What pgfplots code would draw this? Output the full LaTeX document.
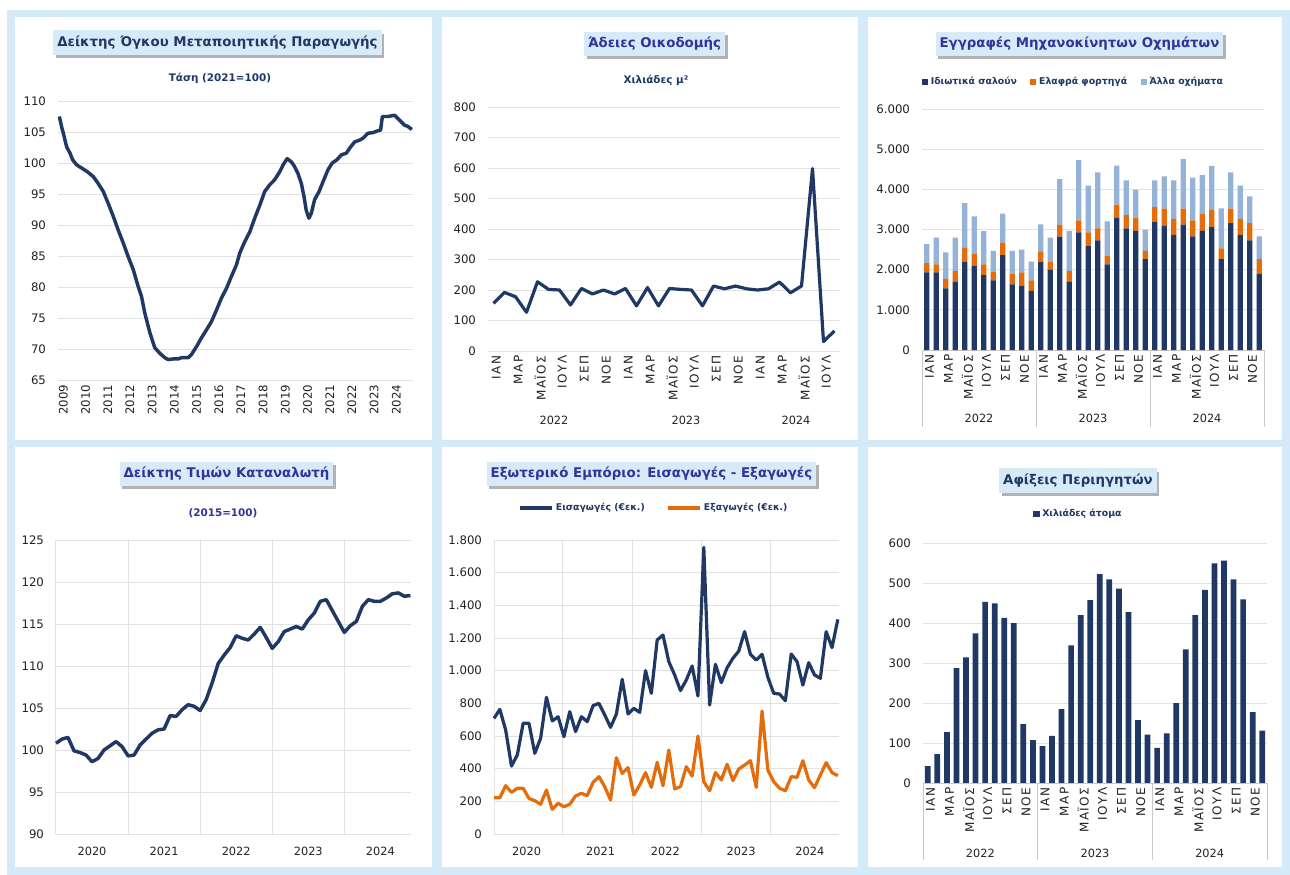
\documentclass[border=0pt]{standalone}
\usepackage{fontspec}
\setmainfont{DejaVu Sans}
\newfontfamily\spaced[LetterSpace=12]{DejaVu Sans}
\usepackage{pgfplots}
\pgfplotsset{compat=1.18}
\usetikzlibrary{shadows}
\definecolor{navy}{RGB}{31,56,100}
\definecolor{purp}{RGB}{51,51,153}
\definecolor{orng}{RGB}{228,108,10}
\definecolor{lblue}{RGB}{149,179,215}
\definecolor{titlebg}{RGB}{214,234,248}
\definecolor{framec}{RGB}{212,234,248}
\definecolor{gridc}{RGB}{226,226,226}
\definecolor{sepc}{RGB}{200,200,200}
\definecolor{tickc}{RGB}{35,35,35}
\pgfplotsset{
  panel/.style={scale only axis, anchor=south west, clip=false,
    axis line style={draw=none}, major tick length=0pt, tick style={draw=none},
    ymajorgrids, grid style={gridc, line width=0.75pt},
    tick label style={text=tickc},
    yticklabel style={font=\fontsize{8.8}{10}\selectfont, xshift=-5.5pt},
    /pgf/number format/assume math mode=true,
    scaled y ticks=false},
  months/.style={xticklabels={ΙΑΝ,ΜΑΡ,ΜΑΪΟΣ,ΙΟΥΛ,ΣΕΠ,ΝΟΕ,ΙΑΝ,ΜΑΡ,ΜΑΪΟΣ,ΙΟΥΛ,ΣΕΠ,ΝΟΕ,ΙΑΝ,ΜΑΡ,ΜΑΪΟΣ,ΙΟΥΛ,ΣΕΠ,ΝΟΕ},
    xticklabel style={rotate=90, anchor=east, yshift=-2pt, font=\spaced\fontsize{9}{10}\selectfont}},
}
\tikzset{titlebox/.style={fill=titlebg, font=\bfseries\fontsize{10}{12}\selectfont, inner xsep=3pt, inner ysep=4pt,
   drop shadow={shadow xshift=2pt, shadow yshift=-2.5pt, fill=black, opacity=0.3}},
  sub/.style={font=\bfseries\fontsize{7.8}{9}\selectfont},
  yearlab/.style={font=\fontsize{8.5}{10}\selectfont, text=tickc},
  sep/.style={sepc, line width=0.75pt}}
\begin{document}
\begin{tikzpicture}
\fill[white] (0,0) rectangle (967.5pt,-656.25pt);
\begin{scope}[framec, line width=5.5pt]
\draw (8.25pt,-10.125pt) rectangle (327pt,-332.625pt);
\draw (328.875pt,-10.125pt) rectangle (646.125pt,-332.625pt);
\draw (648pt,-10.125pt) rectangle (964.5pt,-332.625pt);
\draw (8.25pt,-332.625pt) rectangle (327pt,-653.25pt);
\draw (328.875pt,-332.625pt) rectangle (646.125pt,-653.25pt);
\draw (648pt,-332.625pt) rectangle (964.5pt,-653.25pt);
\end{scope}

% ---------- Panel 1
\node[titlebox, text=navy] at (163.1pt,-31.9pt) {Δείκτης Όγκου Μεταποιητικής Παραγωγής};
\node[sub, text=navy] at (165pt,-58.5pt) {Τάση (2021=100)};
\begin{axis}[panel, at={(43.5pt,-285pt)}, width=266.25pt, height=209.25pt,
  xmin=2008.94, xmax=2024.93, ymin=65, ymax=110, ytick={65,70,...,110},
  xtick={2009,2010,...,2024},
  xticklabels={2009,2010,2011,2012,2013,2014,2015,2016,2017,2018,2019,2020,2021,2022,2023,2024},
  xticklabel style={rotate=90, anchor=east, yshift=-3pt, font=\fontsize{8.8}{10}\selectfont}]
\addplot[navy, line width=2.6pt, line join=round] coordinates {
(2009.00,107.5) (2009.10,105.9) (2009.20,104.5) (2009.33,102.6) (2009.48,101.6) (2009.60,100.5) (2009.78,99.7)
(2010.00,99.2) (2010.26,98.6) (2010.53,97.8) (2010.75,96.7) (2010.98,95.4) (2011.20,93.5) (2011.43,91.4)
(2011.65,89.2) (2011.88,87.1) (2012.10,84.9) (2012.33,82.8) (2012.55,80.1) (2012.70,78.5) (2012.85,75.8)
(2013.08,72.6) (2013.30,70.2) (2013.53,69.3) (2013.75,68.6) (2013.90,68.3) (2014.13,68.4) (2014.35,68.4)
(2014.50,68.6) (2014.80,68.6) (2014.95,69.1) (2015.18,70.4) (2015.40,71.8) (2015.63,73.1) (2015.85,74.4)
(2016.08,76.3) (2016.30,78.2) (2016.53,79.8) (2016.75,81.7) (2016.98,83.6) (2017.13,85.5) (2017.35,87.3)
(2017.58,88.9) (2017.80,91.1) (2018.03,93.2) (2018.25,95.4) (2018.48,96.5) (2018.70,97.3) (2018.93,98.6)
(2019.08,99.7) (2019.26,100.7) (2019.45,100.2) (2019.60,99.4) (2019.75,98.3) (2019.90,96.7) (2020.02,94.6)
(2020.12,92.4) (2020.24,91.1) (2020.35,91.9) (2020.50,94.1) (2020.70,95.4) (2020.88,97.0) (2021.10,98.9)
(2021.29,100.0) (2021.50,100.5) (2021.70,101.3) (2021.93,101.6) (2022.08,102.4) (2022.30,103.4) (2022.53,103.7)
(2022.68,104.0) (2022.90,104.8) (2023.13,104.9) (2023.35,105.2) (2023.47,105.3) (2023.55,107.5) (2023.80,107.5)
(2024.10,107.7) (2024.33,106.9) (2024.55,106.1) (2024.70,105.9) (2024.88,105.4)};
\end{axis}

% ---------- Panel 2
\node[titlebox, text=purp] at (490.9pt,-33pt) {Άδειες Οικοδομής};
\node[sub, text=navy] at (492pt,-60pt) {Χιλιάδες μ²};
\begin{axis}[panel, months, at={(366pt,-263.25pt)}, width=264pt, height=183pt,
  xmin=-0.5, xmax=31.5, ymin=0, ymax=800, ytick={0,100,...,800}, xtick={0,2,...,30}]
\addplot[navy, line width=2.4pt, line join=round] coordinates {
(0,156) (1,192) (2,178) (3,127) (4,227) (5,202) (6,200) (7,151) (8,205) (9,187) (10,200) (11,187)
(12,205) (13,148) (14,208) (15,148) (16,205) (17,202) (18,200) (19,148) (20,213) (21,204) (22,213) (23,204)
(24,200) (25,204) (26,226) (27,191) (28,213) (29,598) (30,31) (31,66)};
\node[yearlab] at (axis cs:5.5,0) [yshift=-51.75pt] {2022};
\node[yearlab] at (axis cs:17.5,0) [yshift=-51.75pt] {2023};
\node[yearlab] at (axis cs:27.5,0) [yshift=-51.75pt] {2024};
\end{axis}

% ---------- Panel 3
\node[titlebox, text=purp] at (809.6pt,-33pt) {Εγγραφές Μηχανοκίνητων Οχημάτων};
\begin{axis}[panel, months, at={(691.5pt,-262.5pt)}, width=256.5pt, height=180.75pt,
  xmin=-0.5, xmax=35.5, ymin=0, ymax=6000, ytick={0,1000,...,6000}, xtick={0,2,...,34},
  /pgf/number format/1000 sep={.},
  ybar stacked, bar width=0.56,
  legend style={draw=none, fill=none, font=\bfseries\fontsize{7}{8}\selectfont, text=navy,
    at={(0.444,1.112)}, anchor=center, legend columns=-1,
    /tikz/every even column/.append style={column sep=8pt}}]
\addplot[fill=navy, draw=none, legend image code/.code={\fill[navy] (0pt,-2.3pt) rectangle (4.6pt,2.3pt);}] coordinates {
(0,1935) (1,1935) (2,1535) (3,1700) (4,2190) (5,2100) (6,1865) (7,1735) (8,2365) (9,1635) (10,1600) (11,1470)
(12,2190) (13,2000) (14,2820) (15,1695) (16,2930) (17,2600) (18,2730) (19,2135) (20,3295) (21,3030) (22,2965) (23,2265)
(24,3195) (25,3095) (26,2865) (27,3120) (28,2830) (29,2965) (30,3060) (31,2265) (32,3160) (33,2865) (34,2730) (35,1900)};
\addplot[fill=orng, draw=none, legend image code/.code={\fill[orng] (0pt,-2.3pt) rectangle (4.6pt,2.3pt);}] coordinates {
(0,225) (1,200) (2,233) (3,265) (4,365) (5,290) (6,265) (7,205) (8,300) (9,255) (10,335) (11,265)
(12,265) (13,190) (14,300) (15,275) (16,300) (17,330) (18,300) (19,200) (20,325) (21,330) (22,330) (23,200)
(24,365) (25,425) (26,400) (27,400) (28,400) (29,430) (30,430) (31,265) (32,360) (33,400) (34,430) (35,365)};
\addplot[fill=lblue, draw=none, legend image code/.code={\fill[lblue] (0pt,-2.3pt) rectangle (4.6pt,2.3pt);}] coordinates {
(0,475) (1,665) (2,665) (3,830) (4,1105) (5,940) (6,830) (7,525) (8,730) (9,575) (10,565) (11,465)
(12,675) (13,605) (14,1135) (15,995) (16,1495) (17,1160) (18,1395) (19,865) (20,970) (21,865) (22,695) (23,530)
(24,665) (25,805) (26,960) (27,1235) (28,1060) (29,960) (30,1095) (31,995) (32,905) (33,830) (34,665) (35,565)};
\legend{Ιδιωτικά σαλούν, Ελαφρά φορτηγά, Άλλα οχήματα}
\draw[sep] (axis cs:-0.5,0) -- (axis cs:35.5,0);
\draw[sep] (axis cs:-0.5,0) -- ++(0pt,-57.75pt);
\draw[sep] (axis cs:11.5,0) -- ++(0pt,-57.75pt);
\draw[sep] (axis cs:23.5,0) -- ++(0pt,-57.75pt);
\draw[sep] (axis cs:35.5,0) -- ++(0pt,-57.75pt);
\node[yearlab] at (axis cs:5.5,0) [yshift=-51pt] {2022};
\node[yearlab] at (axis cs:17.5,0) [yshift=-51pt] {2023};
\node[yearlab] at (axis cs:29.5,0) [yshift=-51pt] {2024};
\end{axis}

% ---------- Panel 4
\node[titlebox, text=purp] at (169.9pt,-355.5pt) {Δείκτης Τιμών Καταναλωτή};
\node[sub, text=purp] at (167.25pt,-384.75pt) {(2015=100)};
\begin{axis}[panel, at={(42pt,-625.5pt)}, width=266.25pt, height=220.5pt,
  xmin=0, xmax=59.1, ymin=90, ymax=125, ytick={90,95,...,125},
  xtick={6,18,30,42,54}, xticklabels={2020,2021,2022,2023,2024},
  xticklabel style={anchor=center, yshift=-12.75pt, font=\fontsize{8.5}{10}\selectfont},
  extra x ticks={0,12,24,36,48}, extra x tick labels={}, extra x tick style={grid=major}]
\addplot[navy, line width=2.6pt, line join=round] coordinates {
(0,100.8) (1,101.3) (2,101.5) (3,99.9) (4,99.7) (5,99.4) (6,98.6) (7,99.0) (8,100.0) (9,100.5)
(10,101.0) (11,100.4) (12,99.3) (13,99.4) (14,100.6) (15,101.3) (16,102.0) (17,102.4) (18,102.5) (19,104.1)
(20,104.0) (21,104.8) (22,105.4) (23,105.2) (24,104.7) (25,106.0) (26,108.0) (27,110.3) (28,111.3) (29,112.2)
(30,113.6) (31,113.3) (32,113.1) (33,113.8) (34,114.6) (35,113.4) (36,112.1) (37,112.9) (38,114.1) (39,114.4)
(40,114.7) (41,114.4) (42,115.5) (43,116.3) (44,117.7) (45,117.9) (46,116.6) (47,115.3) (48,114.0) (49,114.8)
(50,115.3) (51,117.1) (52,117.9) (53,117.7) (54,117.7) (55,118.1) (56,118.6) (57,118.7) (58,118.3) (59,118.4)};
\end{axis}

% ---------- Panel 5
\node[titlebox, text=purp] at (488.6pt,-355.5pt) {Εξωτερικό Εμπόριο: Εισαγωγές - Εξαγωγές};
\begin{axis}[panel, at={(370.5pt,-625.5pt)}, width=258.75pt, height=220.5pt,
  xmin=0, xmax=59.2, ymin=0, ymax=1800, ytick={0,200,...,1800},
  /pgf/number format/1000 sep={.},
  xtick={5.6,18.3,29.4,42.4,54.2}, xticklabels={2020,2021,2022,2023,2024},
  xticklabel style={anchor=center, yshift=-12.75pt, font=\fontsize{8.5}{10}\selectfont},
  extra x ticks={0,11.8,23.7,35.6,47.4}, extra x tick labels={}, extra x tick style={grid=major},
  legend style={draw=none, fill=none, font=\bfseries\fontsize{7}{8}\selectfont, text=navy,
    at={(0.464,1.109)}, anchor=center, legend columns=-1,
    /tikz/every even column/.append style={column sep=14pt}}]
\addplot[navy, line width=2.4pt, line join=round, legend image code/.code={\draw[navy, line width=2.4pt] (0pt,0pt) -- (24pt,0pt);}] coordinates {
(0,708) (1,763) (2,637) (3,416) (4,484) (5,678) (6,678) (7,494) (8,586) (9,837)
(10,692) (11,718) (12,596) (13,749) (14,627) (15,718) (16,688) (17,786) (18,800) (19,729)
(20,653) (21,735) (22,947) (23,735) (24,769) (25,745) (26,1000) (27,861) (28,1188) (29,1218)
(30,1055) (31,974) (32,878) (33,943) (34,1029) (35,845) (36,1755) (37,790) (38,1039) (39,927)
(40,1018) (41,1076) (42,1120) (43,1239) (44,1100) (45,1065) (46,1100) (47,959) (48,861) (49,857)
(50,816) (51,1102) (52,1055) (53,912) (54,1049) (55,974) (56,953) (57,1239) (58,1141) (59,1314)};
\addplot[orng, line width=2.4pt, line join=round, legend image code/.code={\draw[orng, line width=2.4pt] (0pt,0pt) -- (24pt,0pt);}] coordinates {
(0,222) (1,222) (2,296) (3,255) (4,280) (5,280) (6,218) (7,204) (8,182) (9,269)
(10,151) (11,188) (12,167) (13,182) (14,233) (15,249) (16,235) (17,316) (18,351) (19,290)
(20,208) (21,467) (22,371) (23,406) (24,239) (25,300) (26,376) (27,286) (28,439) (29,296)
(30,514) (31,276) (32,290) (33,412) (34,355) (35,600) (36,320) (37,265) (38,376) (39,331)
(40,427) (41,327) (42,398) (43,422) (44,449) (45,286) (46,753) (47,392) (48,320) (49,280)
(50,265) (51,351) (52,347) (53,449) (54,331) (55,284) (56,361) (57,437) (58,376) (59,357)};
\legend{Εισαγωγές (€εκ.), Εξαγωγές (€εκ.)}
\end{axis}

% ---------- Panel 6
\node[titlebox, text=navy] at (808.5pt,-360.4pt) {Αφίξεις Περιηγητών};
\begin{axis}[panel, months, at={(692.25pt,-587.25pt)}, width=258pt, height=180pt,
  xmin=-0.5, xmax=35.5, ymin=0, ymax=600, ytick={0,100,...,600}, xtick={0,2,...,34},
  ybar, bar width=0.6,
  legend style={draw=none, fill=none, font=\bfseries\fontsize{7}{8}\selectfont, text=navy,
    at={(0.453,1.121)}, anchor=center}]
\addplot[fill=navy, draw=none, legend image code/.code={\fill[navy] (0pt,-2.3pt) rectangle (4.6pt,2.3pt);}] coordinates {
(0,42) (1,72) (2,127) (3,287) (4,314) (5,374) (6,453) (7,449) (8,413) (9,400) (10,147) (11,107)
(12,92) (13,118) (14,185) (15,344) (16,420) (17,457) (18,522) (19,509) (20,486) (21,427) (22,157) (23,121)
(24,88) (25,124) (26,200) (27,334) (28,420) (29,483) (30,549) (31,556) (32,509) (33,459) (34,177) (35,131)};
\legend{Χιλιάδες άτομα}
\draw[sep] (axis cs:-0.5,0) -- (axis cs:35.5,0);
\draw[sep] (axis cs:-0.5,0) -- ++(0pt,-57.75pt);
\draw[sep] (axis cs:11.5,0) -- ++(0pt,-57.75pt);
\draw[sep] (axis cs:23.5,0) -- ++(0pt,-57.75pt);
\draw[sep] (axis cs:35.5,0) -- ++(0pt,-57.75pt);
\node[yearlab] at (axis cs:5.5,0) [yshift=-52.5pt] {2022};
\node[yearlab] at (axis cs:17.5,0) [yshift=-52.5pt] {2023};
\node[yearlab] at (axis cs:29.5,0) [yshift=-52.5pt] {2024};
\end{axis}

\pgfresetboundingbox
\path[use as bounding box] (0,0) rectangle (967.5pt,-656.25pt);
\end{tikzpicture}
\end{document}
